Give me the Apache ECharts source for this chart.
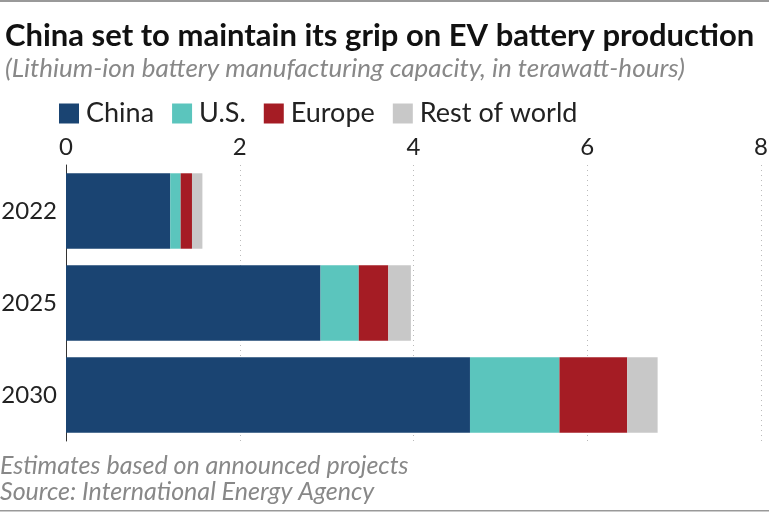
<!DOCTYPE html>
<html><head><meta charset="utf-8">
<script src="https://cdn.jsdelivr.net/npm/echarts@6/dist/echarts.min.js"></script>
<style>html,body{margin:0;padding:0;background:#fff}#c{width:769px;height:514px}</style>
</head><body><div id="c"></div>
<script>
const categories = ['2022', '2025', '2030'];
const china = [1.20, 2.93, 4.65];
const us = [0.12, 0.44, 1.03];
const europe = [0.13, 0.34, 0.78];
const restOfWorld = [0.12, 0.26, 0.35];
const xTicks = [0, 2, 4, 6, 8];

const colors = ['#1a4472', '#5bc5bd', '#a51c24', '#c8c8c8'];
const FONT = 'Lato';
const chart = echarts.init(document.getElementById('c'));
const mk = (name, data, i) => ({
  name, type: 'bar', stack: 'total', data, barCategoryGap: '18%',
  itemStyle: { color: colors[i] }, emphasis: { disabled: true }
});
chart.setOption({
  animation: false,
  textStyle: { fontFamily: FONT },
  title: [
    { text: 'China set to maintain its grip on EV battery production', left: 0, top: 15,
      textStyle: { fontFamily: FONT, fontWeight: 'bold', fontSize: 31, color: '#111' } },
    { text: '(Lithium-ion battery manufacturing capacity, in terawatt-hours)', left: 0, top: 51,
      textStyle: { fontFamily: FONT, fontStyle: 'italic', fontWeight: 'normal', fontSize: 26, color: '#888' } }
  ],
  legend: {
    left: 54, top: 95, icon: 'rect', itemWidth: 20, itemHeight: 20, itemGap: 18,
    textStyle: { fontFamily: FONT, fontSize: 27, color: '#222', padding: [0, 0, 0, 2] },
    data: ['China', 'U.S.', 'Europe', 'Rest of world']
  },
  grid: { left: 66, right: 8, top: 165, bottom: 73, containLabel: false, outerBoundsMode: 'none' },
  xAxis: {
    type: 'value', position: 'top', min: xTicks[0], max: xTicks[xTicks.length - 1], interval: 2,
    axisLine: { show: false }, axisTick: { show: false },
    axisLabel: { fontFamily: FONT, fontSize: 24, color: '#222', margin: 6,
      formatter: v => xTicks.includes(v) ? String(v) : '' },
    splitLine: { show: true, lineStyle: { type: [1, 4], color: '#bbb', width: 1 } }
  },
  yAxis: {
    type: 'category', data: categories, inverse: true,
    axisLine: { show: true, lineStyle: { color: '#333', width: 1 } },
    axisTick: { show: false },
    axisLabel: { fontFamily: FONT, fontSize: 24, color: '#222', margin: 9 }
  },
  series: [mk('China', china, 0), mk('U.S.', us, 1), mk('Europe', europe, 2), mk('Rest of world', restOfWorld, 3)],
  graphic: [
    { type: 'rect', shape: { x: 0, y: 0, width: 769, height: 2 }, style: { fill: '#999' } },
    { type: 'rect', shape: { x: 0, y: 510, width: 769, height: 1.5 }, style: { fill: '#999' } },
    { type: 'text', left: 0, top: 453, style: { text: 'Estimates based on announced projects', font: 'italic 25px ' + FONT, fill: '#888' } },
    { type: 'text', left: 0, top: 479, style: { text: 'Source: International Energy Agency', font: 'italic 25px ' + FONT, fill: '#888' } }
  ]
});
</script></body></html>
